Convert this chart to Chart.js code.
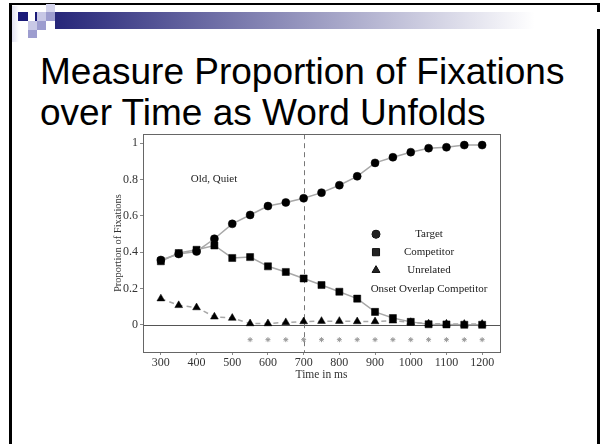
<!DOCTYPE html>
<html>
<head>
<meta charset="utf-8">
<script src="https://cdn.jsdelivr.net/npm/chart.js@4.4.1/dist/chart.umd.min.js"></script>
<style>
  html, body { margin: 0; padding: 0; background: #fff; }
  body { width: 600px; height: 444px; position: relative; overflow: hidden; }
  .frame { position: absolute; left: 9px; top: 3px; width: 591px; height: 470px; box-sizing: border-box;
           border-left: 3px solid #000; border-top: 2px solid #000; border-right: 3px solid #000; }
  .sq { position: absolute; }
  .bar { position: absolute; left: 55px; top: 12px; width: 545px; height: 17px;
         background: linear-gradient(to right, #262679, #ffffff 88%); }
  .title { position: absolute; left: 40px; top: 51px; font-family: "Liberation Sans", Arial, sans-serif;
           font-size: 37px; line-height: 41px; color: #000; white-space: nowrap; }
  #wrap { position: absolute; left: 95px; top: 125px; width: 420px; height: 265px; }
</style>
</head>
<body>
<div class="frame"></div>
<div class="sq" style="left:12px;top:6px;width:7px;height:36px;background:linear-gradient(to right,#e2e2f2,#fff)"></div>
<div class="sq" style="left:18px;top:12px;width:10px;height:9px;background:#1a1a78"></div>
<div class="sq" style="left:35px;top:12px;width:2px;height:9px;background:#1a1a78"></div>
<div class="sq" style="left:37px;top:12px;width:9px;height:9px;background:#c8c8e6"></div>
<div class="sq" style="left:46px;top:4px;width:9px;height:8px;background:#d4d4ec"></div>
<div class="sq" style="left:46px;top:12px;width:9px;height:9px;background:#9d9dcf"></div>
<div class="sq" style="left:28px;top:21px;width:9px;height:9px;background:#c8c8e6"></div>
<div class="sq" style="left:37px;top:21px;width:9px;height:9px;background:#9d9dcf"></div>
<div class="sq" style="left:28px;top:30px;width:9px;height:8px;background:#9d9dcf"></div>
<div class="bar"></div>
<div class="title">Measure Proportion of Fixations<br>over Time as Word Unfolds</div>
<div id="wrap"><canvas id="chart" width="420" height="265"></canvas></div>
<script>
// temps (ms) et proportions
const timeMs = [300, 350, 400, 450, 500, 550, 600, 650, 700, 750, 800, 850, 900, 950, 1000, 1050, 1100, 1150, 1200];
const target = [0.357, 0.39, 0.404, 0.474, 0.556, 0.605, 0.654, 0.674, 0.697, 0.728, 0.769, 0.818, 0.892, 0.923, 0.951, 0.973, 0.978, 0.99, 0.99];
const competitor = [0.35, 0.395, 0.413, 0.437, 0.368, 0.373, 0.322, 0.291, 0.255, 0.219, 0.182, 0.144, 0.071, 0.037, 0.016, 0.003, 0.002, 0.0, 0.0];
const unrelated = [0.144, 0.107, 0.095, 0.044, 0.037, 0.007, 0.007, 0.013, 0.018, 0.02, 0.02, 0.018, 0.018, 0.022, 0.014, 0.006, 0.005, 0.004, 0.004];
// marques "*" (onset overlap competitor)
const onsetTime = [550, 600, 650, 700, 750, 800, 850, 900, 950, 1000, 1050, 1100, 1150, 1200];
const onsetMark = [-0.082, -0.082, -0.082, -0.082, -0.082, -0.082, -0.082, -0.082, -0.082, -0.082, -0.082, -0.082, -0.082, -0.082];
const xTicks = [300, 400, 500, 600, 700, 800, 900, 1000, 1100, 1200];
const yTicks = [0, 0.2, 0.4, 0.6, 0.8, 1];
const legendLabels = ['Target', 'Competitor', 'Unrelated', 'Onset Overlap Competitor'];
const noteText = 'Old, Quiet';
const markerTime = 700;

const serif = '"Liberation Serif", "Times New Roman", serif';
const pts = (xs, ys) => xs.map((x, i) => ({ x: x, y: ys[i] }));

// cadre, ligne zéro et ligne verticale pointillée
const framePlugin = {
    id: 'frame',
    beforeDatasetsDraw(chart) {
        const { ctx, chartArea: a, scales } = chart;
        ctx.save();
        ctx.strokeStyle = '#555';
        ctx.lineWidth = 1;
        const y0 = Math.round(scales.y.getPixelForValue(0)) + 0.5;
        ctx.beginPath(); ctx.moveTo(a.left, y0); ctx.lineTo(a.right, y0); ctx.stroke();
        const xm = Math.round(scales.x.getPixelForValue(markerTime)) + 0.5;
        ctx.strokeStyle = '#777';
        ctx.setLineDash([5, 4]);
        ctx.beginPath(); ctx.moveTo(xm, a.top); ctx.lineTo(xm, a.bottom); ctx.stroke();
        ctx.restore();
    },
    afterDatasetsDraw(chart) {
        const { ctx, chartArea: a } = chart;
        ctx.save();
        ctx.strokeStyle = '#666';
        ctx.lineWidth = 1;
        ctx.strokeRect(Math.round(a.left) + 0.5, Math.round(a.top) + 0.5, Math.round(a.right - a.left), Math.round(a.bottom - a.top));
        ctx.restore();
    }
};

// légende à l'intérieur du graphique
const legendPlugin = {
    id: 'innerLegend',
    afterDraw(chart) {
        const { ctx, chartArea: a } = chart;
        ctx.save();
        ctx.fillStyle = '#222';
        ctx.font = '11px ' + serif;
        ctx.textAlign = 'center';
        ctx.textBaseline = 'middle';
        ctx.fillText(noteText, a.left + 71, a.top + 45);
        const symX = a.left + 233, txtX = a.left + 286;
        const styles = ['circle', 'rect', 'triangle'];
        const radii = [4, 5, 4.5];
        for (let i = 0; i < 3; i++) {
            const y = a.top + 100 + i * 18;
            Chart.helpers.drawPoint(ctx, { pointStyle: styles[i], radius: radii[i], borderWidth: 0.5, rotation: 0 }, symX, y);
            ctx.fill();
            ctx.fillText(legendLabels[i], txtX, y);
        }
        ctx.fillText(legendLabels[3], txtX, a.top + 155);
        ctx.restore();
    }
};

const ctx = document.getElementById('chart').getContext('2d');
new Chart(ctx, {
    type: 'scatter',
    data: {
        datasets: [
            {
                label: legendLabels[0], data: pts(timeMs, target), showLine: true,
                borderColor: '#a8a8a8', borderWidth: 1.5,
                pointStyle: 'circle', pointRadius: 4, pointBackgroundColor: '#000', pointBorderColor: '#000', pointBorderWidth: 0.5,
                order: 1
            },
            {
                label: legendLabels[1], data: pts(timeMs, competitor), showLine: true,
                borderColor: '#a8a8a8', borderWidth: 1.5,
                pointStyle: 'rect', pointRadius: 5, pointBackgroundColor: '#000', pointBorderColor: '#000', pointBorderWidth: 0.5,
                order: 2
            },
            {
                label: legendLabels[2], data: pts(timeMs, unrelated), showLine: true,
                borderColor: '#a8a8a8', borderWidth: 1.5, borderDash: [5, 4],
                pointStyle: 'triangle', pointRadius: 4.5, pointBackgroundColor: '#000', pointBorderColor: '#000', pointBorderWidth: 0.5,
                order: 3
            },
            {
                label: legendLabels[3], data: pts(onsetTime, onsetMark), showLine: false,
                pointStyle: 'star', pointRadius: 2.5, pointBorderColor: '#999', pointBorderWidth: 1,
                order: 4
            }
        ]
    },
    options: {
        responsive: false,
        animation: false,
        devicePixelRatio: 1,
        layout: { padding: { top: 7, right: 15, left: 0, bottom: 0 } },
        plugins: { legend: { display: false }, tooltip: { enabled: false } },
        elements: { line: { tension: 0 } },
        scales: {
            x: {
                type: 'linear', min: 250, max: 1250,
                afterBuildTicks: s => { s.ticks = xTicks.map(v => ({ value: v })); },
                afterFit: s => { s.height = 38; },
                ticks: { font: { family: serif, size: 12 }, color: '#333', padding: 1, maxRotation: 0, autoSkip: false, callback: v => String(v) },
                grid: { display: true, drawOnChartArea: false, drawTicks: true, tickLength: 3, color: '#888' },
                border: { display: true, color: '#666' },
                title: { display: true, text: 'Time in ms', font: { family: serif, size: 11.5 }, color: '#333', padding: { top: 0, bottom: 8 } }
            },
            y: {
                type: 'linear', min: -0.15, max: 1.05,
                afterBuildTicks: s => { s.ticks = yTicks.map(v => ({ value: v })); },
                afterFit: s => { s.width = 48; },
                ticks: { font: { family: serif, size: 12 }, color: '#333', padding: 2, callback: v => String(v) },
                grid: { display: true, drawOnChartArea: false, drawTicks: true, tickLength: 3, color: '#888' },
                border: { display: true, color: '#666' },
                title: { display: true, text: 'Proportion of Fixations', font: { family: serif, size: 10.5 }, color: '#333', padding: { top: 17, bottom: 0 } }
            }
        }
    },
    plugins: [framePlugin, legendPlugin]
});
</script>
</body>
</html>
